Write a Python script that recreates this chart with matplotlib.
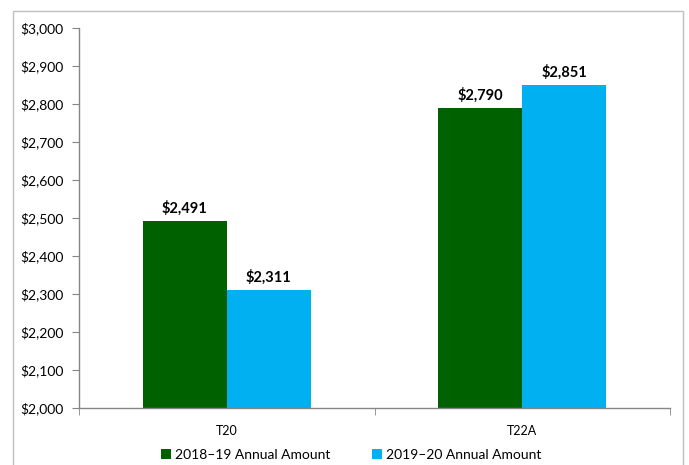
import matplotlib
matplotlib.use("Agg")
import matplotlib.pyplot as plt
from matplotlib.patches import Rectangle
from matplotlib.ticker import FuncFormatter, FixedLocator
import numpy as np

categories = ["T20", "T22A"]
series_names = ["2018\u201319 Annual Amount", "2019\u201320 Annual Amount"]
values_2018 = [2491, 2790]
values_2019 = [2311, 2851]
colors = ["#006100", "#00B0F0"]

plt.rcParams['font.family'] = ['Lato', 'DejaVu Sans']

fig = plt.figure(figsize=(6.89, 4.65), dpi=100)
ax = fig.add_axes([79/689, 57/465, (670-79)/689, (408-28)/465])

# figure border
fig.patches.append(Rectangle((13/689, -0.05), (683-13)/689, 1.05 - 11/465,
                             transform=fig.transFigure, fill=False,
                             edgecolor="#BFBFBF", linewidth=1.0))

x = np.arange(len(categories))
w = 0.284
for i, (vals, name, c) in enumerate(zip([values_2018, values_2019], series_names, colors)):
    off = (i - 0.5) * w
    bars = ax.bar(x + off, np.array(vals) - 2000, width=w, bottom=2000, color=c, label=name)
    for xi, v in zip(x + off, vals):
        ax.text(xi, v + 14, f"${v:,}", ha="center", va="bottom", fontsize=10.5,
                fontweight="bold", color="black")

ax.set_ylim(2000, 3000)
ax.set_xlim(-0.5, 1.5)
ax.set_yticks(np.arange(2000, 3001, 100))
ax.yaxis.set_major_formatter(FuncFormatter(lambda v, p: f"${int(v):,}"))
ax.set_xticks(x)
ax.set_xticklabels(categories)
ax.xaxis.set_minor_locator(FixedLocator([-0.5, 0.5, 1.5]))
ax.tick_params(axis="x", which="major", length=0, pad=12, labelsize=9)
ax.tick_params(axis="x", which="minor", length=5, color="#868686", direction="out")
ax.tick_params(axis="y", length=5, color="#868686", labelsize=10, pad=6)

for s in ["top", "right"]:
    ax.spines[s].set_visible(False)
for s in ["left", "bottom"]:
    ax.spines[s].set_color("#868686")
    ax.spines[s].set_linewidth(1.0)

leg = fig.legend(*ax.get_legend_handles_labels(), loc="center",
                 bbox_to_anchor=(351/689, 1 - 455/465), ncol=2, frameon=False,
                 fontsize=10, handlelength=0.7, handleheight=0.7, handletextpad=0.3,
                 columnspacing=3.0)

fig.savefig("out.png", dpi=100)
